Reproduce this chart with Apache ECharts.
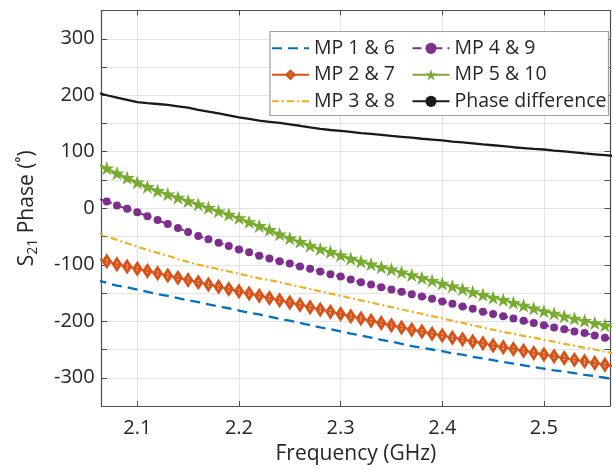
<!DOCTYPE html>
<html><head><meta charset="utf-8">
<script src="https://cdn.jsdelivr.net/npm/echarts@6/dist/echarts.min.js"></script>
<style>html,body{margin:0;padding:0;background:#fff}#c{width:613px;height:470px}</style>
</head><body><div id="c"></div>
<script>
// Frequency (GHz)
const freq = [2.06,2.07,2.08,2.09,2.10,2.11,2.12,2.13,2.14,2.15,2.16,2.17,2.18,2.19,2.20,2.21,2.22,2.23,2.24,2.25,2.26,2.27,2.28,2.29,2.30,2.31,2.32,2.33,2.34,2.35,2.36,2.37,2.38,2.39,2.40,2.41,2.42,2.43,2.44,2.45,2.46,2.47,2.48,2.49,2.50,2.51,2.52,2.53,2.54,2.55,2.56,2.57];
// S21 phase (deg)
const mp16 = [-127,-132,-137,-140,-144,-148,-152,-155,-159,-163,-166,-170,-174,-177,-181,-185,-188,-192,-196,-199,-203,-207,-211,-214,-218,-222,-225,-229,-233,-236,-240,-244,-247,-250,-253,-257,-259,-263,-266,-269,-272,-275,-278,-281,-284,-287,-289,-292,-295,-297,-300,-303];
const mp27 = [-89,-94,-99,-103,-107,-111,-115,-119,-123,-127,-131,-135,-139,-143,-147,-151,-155,-159,-163,-167,-171,-175,-179,-183,-187,-191,-195,-199,-203,-207,-211,-215,-218,-222,-225,-229,-232,-236,-239,-243,-246,-249,-252,-256,-259,-262,-265,-268,-271,-274,-277,-280];
const mp38 = [-44,-50,-56,-62,-68,-74,-79,-84,-90,-95,-100,-104,-108,-112,-116,-120,-124,-127,-131,-135,-139,-143,-147,-151,-155,-159,-163,-167,-171,-175,-179,-183,-187,-191,-195,-199,-203,-207,-211,-215,-219,-222,-226,-229,-233,-236,-240,-243,-247,-250,-254,-257];
const mp49 = [18,12,5,-1,-7,-14,-21,-28,-35,-42,-49,-55,-61,-67,-73,-78,-84,-89,-94,-98,-103,-107,-112,-117,-121,-126,-131,-135,-140,-144,-148,-152,-156,-160,-165,-169,-174,-178,-183,-187,-191,-195,-199,-203,-207,-211,-214,-218,-221,-225,-229,-232];
const mp510 = [79,71,62,54,46,38,31,25,19,13,7,1,-5,-11,-17,-24,-31,-38,-46,-53,-59,-66,-72,-77,-83,-89,-94,-99,-104,-108,-113,-118,-123,-128,-133,-138,-143,-148,-153,-158,-162,-167,-172,-177,-182,-186,-191,-195,-199,-203,-207,-211];
const phaseDiff = [205,200,196,192,188,186,184.5,183,180.5,178,174,171,168,164.5,161,158,155,153,151,148.5,146,143,140.5,138.5,137,135,133,131.5,130,128,126.5,125,123,121.5,120,118,116.5,115,113,111.5,110,108,106.5,105,104,102,100.5,99,97,95.5,94,92.5];
const names = ['MP 1 & 6','MP 2 & 7','MP 3 & 8','MP 4 & 9','MP 5 & 10','Phase difference'];
const xTickLabels = ['2.1','2.2','2.3','2.4','2.5'];
const yTickLabels = ['-300','-200','-100','0','100','200','300'];

const FONT = 'Open Sans';
const TXT = '#262626';
const AX = '#4d4d4d';
const GRID = '#e3e3e3';
const pts = v => freq.map((f, i) => [f, v[i]]);
const star = 'path://M0,-100L22.45,-30.9L95.1,-30.9L36.33,11.8L58.8,80.9L0,38.2L-58.8,80.9L-36.33,11.8L-95.1,-30.9L-22.45,-30.9Z';
const ringDiamond = 'path://M0,-70L45,0L0,70L-45,0ZM0,-22L-12,0L0,22L12,0Z';
const noMark = {opacity: 0, color: 'rgba(0,0,0,0)', borderWidth: 0};

const chart = echarts.init(document.getElementById('c'), null, {renderer: 'canvas'});
const base = {type: 'line', animation: false, clip: true, smooth: false, emphasis: {disabled: true}};
const legendText = {fontSize: 19.5, color: TXT, fontFamily: FONT, lineHeight: 20};
chart.setOption({
  animation: false,
  backgroundColor: '#fff',
  textStyle: {fontFamily: FONT},
  grid: {left: 101.7, right: -3.5, top: 10.5, bottom: 61.7, containLabel: false},
  xAxis: [{
    type: 'value', min: 2.065, max: 2.565, splitNumber: 5,
    name: 'Frequency (GHz)', nameLocation: 'middle', nameGap: 38,
    nameTextStyle: {fontSize: 21, color: TXT, fontFamily: FONT},
    axisLine: {show: true, onZero: false, lineStyle: {color: AX, width: 1.2}},
    axisTick: {show: true, inside: true, length: 5, lineStyle: {color: AX}},
    axisLabel: {fontSize: 20, color: TXT, fontFamily: FONT, margin: 12,
      formatter: v => { const s = v.toFixed(1); return (Math.abs(v * 10 - Math.round(v * 10)) < 1e-6 && xTickLabels.includes(s)) ? s : ''; }},
    splitLine: {show: true, lineStyle: {color: GRID, width: 1}}
  }, {
    type: 'value', position: 'top', min: 2.065, max: 2.565, splitNumber: 5,
    axisLine: {show: true, onZero: false, lineStyle: {color: AX, width: 1.2}},
    axisTick: {show: true, inside: true, length: 5, lineStyle: {color: AX}},
    axisLabel: {show: false}, splitLine: {show: false}
  }],
  yAxis: [{
    type: 'value', min: -350, max: 350, interval: 50,
    name: '{a|S}{s|21}{a| Phase (˚)}', nameLocation: 'middle', nameGap: 62,
    nameTextStyle: {color: TXT, fontFamily: FONT, rich: {
      a: {fontSize: 21, color: TXT, fontFamily: FONT},
      s: {fontSize: 14, color: TXT, fontFamily: FONT, padding: [12, 0, 0, 0]}
    }},
    axisLine: {show: true, onZero: false, lineStyle: {color: AX, width: 1.2}},
    axisTick: {show: true, inside: true, length: 5.5, lineStyle: {color: AX}},
    axisLabel: {fontSize: 20, color: TXT, fontFamily: FONT, margin: 7,
      formatter: v => yTickLabels.includes(String(v)) ? String(v) : ''},
    splitLine: {show: true, lineStyle: {color: GRID, width: 1}}
  }, {
    type: 'value', position: 'right', min: -350, max: 350, interval: 50,
    axisLine: {show: true, onZero: false, lineStyle: {color: AX, width: 1.2}},
    axisTick: {show: true, inside: true, length: 5.5, lineStyle: {color: AX}},
    axisLabel: {show: false}, splitLine: {show: false}
  }],
  graphic: [{
    type: 'rect', z: 20, silent: true,
    shape: {x: 270, y: 31.5, width: 338.5, height: 84},
    style: {fill: '#ffffff', stroke: '#a0a0a0', lineWidth: 1.2}
  }],
  legend: [{
    data: [{name: names[0], itemStyle: noMark}, names[1], {name: names[2], itemStyle: noMark}],
    orient: 'vertical', left: 271, top: 38.3, padding: 0,
    itemGap: 6.5, itemWidth: 37, itemHeight: 14, z: 30, textStyle: legendText
  }, {
    data: names.slice(3), orient: 'vertical', left: 411.5, top: 38.3, padding: 0,
    itemGap: 6.5, itemWidth: 37, itemHeight: 14, z: 30, textStyle: legendText
  }],
  series: [
    Object.assign({}, base, {name: names[0], data: pts(mp16), showSymbol: false, symbol: 'none',
      itemStyle: {color: '#0072BD'}, lineStyle: {color: '#0072BD', width: 2.3, type: [10, 6]}}),
    Object.assign({}, base, {name: names[1], data: pts(mp27), symbol: ringDiamond, symbolSize: [10.5, 16], symbolKeepAspect: false,
      itemStyle: {color: '#D95319'}, lineStyle: {color: '#D95319', width: 2}}),
    Object.assign({}, base, {name: names[2], data: pts(mp38), showSymbol: false, symbol: 'none',
      itemStyle: {color: '#EDB120'}, lineStyle: {color: '#EDB120', width: 2.2, type: [7, 3, 2, 3]}}),
    Object.assign({}, base, {name: names[3], data: pts(mp49), symbol: 'circle', symbolSize: 8,
      itemStyle: {color: '#7E2F8E'}, lineStyle: {color: '#7E2F8E', width: 2, type: [9, 5, 2, 5]}}),
    Object.assign({}, base, {name: names[4], data: pts(mp510), symbol: star, symbolSize: 15, symbolKeepAspect: true,
      itemStyle: {color: '#77AC30'}, lineStyle: {color: '#77AC30', width: 2}}),
    Object.assign({}, base, {name: names[5], data: pts(phaseDiff), showSymbol: false, symbol: 'none',
      itemStyle: {color: '#1a1a1a'}, lineStyle: {color: '#1a1a1a', width: 2.3}})
  ]
});
</script>
</body></html>
